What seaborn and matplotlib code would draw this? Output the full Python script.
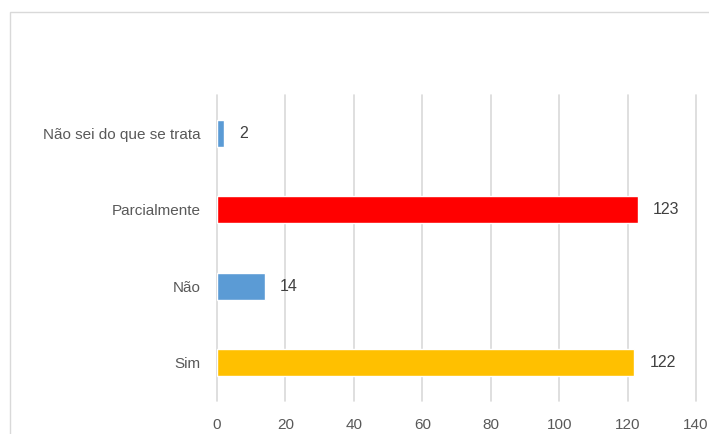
import matplotlib
matplotlib.use("Agg")
import matplotlib.pyplot as plt
import matplotlib.patches as mpatches
import seaborn as sns
import pandas as pd

# Respostas e contagens (de cima para baixo)
categorias = ["Não sei do que se trata", "Parcialmente", "Não", "Sim"]
valores = [2, 123, 14, 122]
cores = ["#5B9BD5", "#FF0000", "#5B9BD5", "#FFC000"]
ticks_x = [0, 20, 40, 60, 80, 100, 120, 140]

df = pd.DataFrame({"categoria": categorias, "valor": valores})

sns.set_theme(style="white")
plt.rcParams["font.family"] = ["Liberation Sans", "DejaVu Sans"]

W, H = 709, 434
fig = plt.figure(figsize=(W / 100, H / 100), dpi=100)
fig.patch.set_facecolor("white")

# Moldura da área do gráfico
fig.add_artist(mpatches.Rectangle((10 / W, -0.1), 1.2, 1.1 - 12 / H,
                                  transform=fig.transFigure, fill=False,
                                  edgecolor="#D9D9D9", linewidth=1.0))

ax = fig.add_axes([217 / W, 1 - 401 / H, (696 - 217) / W, (401 - 95) / H])

sns.barplot(data=df, x="valor", y="categoria", hue="categoria",
            palette=cores, order=categorias, hue_order=categorias,
            width=0.35, orient="h", legend=False, ax=ax, saturation=1)

ax.set_xlim(0, 140)
ax.set_ylim(3.5, -0.5)
ax.set_xticks(ticks_x)
ax.set_xticklabels([str(t) for t in ticks_x])
ax.set_xlabel("")
ax.set_ylabel("")

ax.grid(axis="x", color="#D9D9D9", linewidth=1.2)
for gl in ax.get_xgridlines():
    gl.set_clip_on(False)
ax.set_axisbelow(True)
for s in ax.spines.values():
    s.set_visible(False)
ax.tick_params(axis="both", length=0, colors="#595959", labelsize=11)
ax.tick_params(axis="x", pad=12)
ax.tick_params(axis="y", pad=12)

for cont in ax.containers:
    ax.bar_label(cont, padding=11, color="#404040", fontsize=11.5)

fig.savefig("out.png", dpi=100, facecolor="white")
